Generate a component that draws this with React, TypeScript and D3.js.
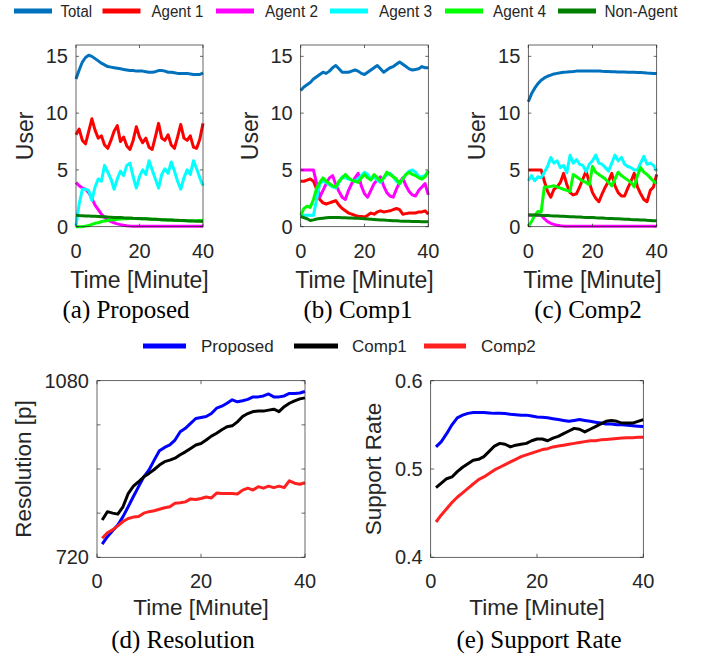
import React from 'react';
import * as d3 from 'd3';

// ---------- DATA ----------
const topMinutes = d3.range(0, 41);
const bottomMinutes = d3.range(1, 41);

const agentLabels = ['Total', 'Agent 1', 'Agent 2', 'Agent 3', 'Agent 4', 'Non-Agent'];
const agentColors = ['#0072BD', '#FF0000', '#FF00FF', '#00FFFF', '#00FF00', '#007F00'];

const aTotal = [13.0, 13.8, 14.5, 14.9, 15.1, 15.0, 14.8, 14.6, 14.4, 14.25, 14.1, 14.05, 14.0, 13.95, 13.9, 13.85, 13.8, 13.75, 13.75, 13.7, 13.7, 13.7, 13.65, 13.6, 13.6, 13.65, 13.75, 13.75, 13.7, 13.6, 13.6, 13.55, 13.5, 13.5, 13.5, 13.5, 13.45, 13.4, 13.4, 13.4, 13.55];
const aAgent1 = [8.1, 8.6, 7.6, 7.3, 8.4, 9.5, 8.5, 7.8, 8.0, 7.2, 6.9, 7.6, 8.4, 8.9, 7.5, 7.9, 7.1, 6.8, 7.6, 8.8, 7.9, 7.4, 7.8, 7.0, 6.8, 7.9, 9.1, 7.8, 7.6, 8.1, 7.2, 6.9, 7.9, 9.0, 7.8, 7.6, 8.0, 7.0, 6.9, 7.7, 9.1];
const aAgent2 = [3.9, 3.6, 3.4, 3.3, 3.0, 2.5, 1.9, 1.5, 1.1, 0.8, 0.6, 0.45, 0.35, 0.25, 0.18, 0.12, 0.08, 0.06, 0.05, 0.05, 0.05, 0.05, 0.05, 0.05, 0.05, 0.05, 0.05, 0.05, 0.05, 0.05, 0.05, 0.05, 0.05, 0.05, 0.05, 0.05, 0.05, 0.05, 0.05, 0.05, 0.05];
const aAgent3 = [0.1, 2.0, 3.3, 3.3, 3.2, 2.3, 3.5, 4.2, 4.0, 5.4, 4.8, 4.2, 3.3, 4.2, 4.9, 4.5, 5.4, 5.6, 4.4, 3.4, 4.4, 5.0, 4.6, 5.8, 5.0, 4.2, 3.4, 4.6, 5.1, 4.7, 5.7, 4.9, 4.0, 3.3, 4.3, 5.0, 4.6, 5.8, 5.1, 4.3, 3.6];
const aAgent4 = [0, 0, 0, 0.05, 0.1, 0.2, 0.3, 0.35, 0.45, 0.5, 0.55, 0.6, 0.62, 0.65, 0.68, 0.7, 0.7, 0.72, 0.72, 0.72, 0.7, 0.7, 0.7, 0.68, 0.66, 0.65, 0.63, 0.62, 0.6, 0.6, 0.58, 0.56, 0.55, 0.55, 0.53, 0.52, 0.52, 0.52, 0.53, 0.55, 0.57];
const aNonAgent = [1.0, 0.98, 0.97, 0.95, 0.94, 0.92, 0.91, 0.9, 0.88, 0.87, 0.85, 0.84, 0.82, 0.81, 0.8, 0.78, 0.77, 0.76, 0.74, 0.73, 0.72, 0.7, 0.69, 0.68, 0.66, 0.65, 0.64, 0.62, 0.61, 0.6, 0.59, 0.57, 0.56, 0.55, 0.54, 0.52, 0.51, 0.5, 0.49, 0.47, 0.46];

const bTotal = [12.0, 12.3, 12.5, 12.7, 13.0, 13.2, 13.4, 13.6, 13.5, 13.7, 14.0, 14.2, 13.9, 13.6, 13.6, 13.6, 13.7, 13.8, 13.7, 13.5, 13.4, 13.6, 13.8, 14.0, 14.2, 13.9, 13.6, 13.8, 14.0, 14.1, 14.3, 14.5, 14.3, 14.1, 13.9, 13.8, 13.85, 13.9, 14.1, 14.0, 14.0];
const bAgent1 = [4.0, 4.0, 4.1, 4.2, 4.0, 3.3, 2.4, 2.1, 2.0, 2.1, 2.2, 2.3, 1.9, 1.6, 1.4, 1.2, 1.1, 1.0, 0.9, 0.9, 0.85, 1.0, 1.2, 1.1, 1.3, 1.4, 1.3, 1.35, 1.4, 1.5, 1.6, 1.5, 1.1, 1.15, 1.2, 1.2, 1.2, 1.3, 1.3, 1.4, 1.1];
const bAgent2 = [5.0, 5.0, 5.0, 5.0, 5.0, 3.8, 2.6, 3.2, 3.8, 4.3, 4.5, 3.7, 3.1, 2.6, 2.4, 3.2, 3.8, 4.3, 4.7, 3.6, 2.9, 2.6, 3.2, 3.8, 4.1, 4.4, 3.6, 3.0, 2.7, 2.6, 3.3, 3.9, 4.3, 3.6, 3.1, 2.8, 2.7, 3.2, 3.5, 3.8, 2.8];
const bAgent3 = [1.0, 1.0, 1.0, 1.0, 1.0, 2.4, 3.8, 4.0, 3.9, 3.7, 3.5, 3.4, 3.9, 4.4, 4.3, 4.2, 4.1, 4.0, 4.2, 4.5, 4.8, 4.6, 4.2, 4.4, 4.1, 3.9, 4.3, 4.6, 4.7, 4.4, 4.0, 3.8, 4.2, 4.6, 4.9, 5.0, 4.8, 4.4, 4.4, 4.5, 4.9];
const bAgent4 = [1.0, 1.6, 1.8, 1.7, 2.4, 3.4, 3.9, 4.3, 4.0, 3.8, 3.6, 3.5, 4.0, 4.3, 4.6, 4.3, 4.1, 4.0, 3.9, 4.3, 4.6, 4.3, 4.1, 4.6, 4.3, 4.0, 4.3, 4.8, 4.6, 4.4, 4.2, 3.8, 4.2, 4.6, 4.8, 4.6, 4.5, 4.3, 4.2, 4.4, 4.9];
const bNonAgent = [0.9, 0.8, 0.7, 0.55, 0.6, 0.68, 0.72, 0.75, 0.78, 0.8, 0.8, 0.8, 0.8, 0.79, 0.78, 0.77, 0.76, 0.75, 0.74, 0.72, 0.7, 0.68, 0.66, 0.64, 0.62, 0.6, 0.58, 0.56, 0.55, 0.53, 0.52, 0.5, 0.49, 0.48, 0.47, 0.46, 0.45, 0.45, 0.44, 0.44, 0.43];

const cTotal = [11.0, 11.7, 12.2, 12.6, 12.9, 13.1, 13.25, 13.35, 13.45, 13.5, 13.55, 13.6, 13.62, 13.65, 13.67, 13.7, 13.7, 13.72, 13.72, 13.72, 13.72, 13.7, 13.7, 13.68, 13.67, 13.66, 13.65, 13.64, 13.63, 13.62, 13.62, 13.6, 13.6, 13.6, 13.58, 13.57, 13.55, 13.53, 13.52, 13.5, 13.5];
const cAgent1 = [5.0, 5.0, 5.0, 5.0, 5.0, 4.0, 3.1, 2.6, 3.3, 3.5, 3.9, 4.7, 3.7, 3.0, 2.8, 2.9, 3.5, 4.2, 4.9, 3.9, 3.0, 2.5, 2.2, 2.9, 3.5, 4.0, 4.7, 3.6, 3.0, 2.7, 2.7, 3.4, 4.0, 4.7, 3.5, 2.9, 2.4, 2.2, 3.2, 3.5, 4.6];
const cAgent2 = [1.0, 1.0, 1.0, 1.0, 1.0, 0.7, 0.45, 0.3, 0.2, 0.12, 0.08, 0.05, 0.05, 0.05, 0.05, 0.05, 0.05, 0.05, 0.05, 0.05, 0.05, 0.05, 0.05, 0.05, 0.05, 0.05, 0.05, 0.05, 0.05, 0.05, 0.05, 0.05, 0.05, 0.05, 0.05, 0.05, 0.05, 0.05, 0.05, 0.05, 0.05];
const cAgent3 = [4.05, 4.5, 4.05, 4.4, 4.3, 4.8, 5.3, 6.1, 5.6, 5.8, 5.2, 5.4, 4.75, 6.3, 5.6, 5.9, 5.5, 5.4, 4.85, 5.5, 5.8, 6.3, 5.6, 5.5, 5.2, 4.9, 5.6, 6.3, 5.8, 6.1, 5.5, 5.3, 5.2, 5.0, 5.0, 5.6, 6.2, 5.5, 5.6, 5.4, 4.9];
const cAgent4 = [0.05, 0.45, 1.0, 1.35, 1.3, 3.5, 3.5, 3.55, 3.6, 3.5, 3.4, 3.3, 3.2, 3.1, 4.6, 4.4, 4.2, 4.0, 3.9, 3.7, 5.3, 4.8, 4.6, 4.4, 4.2, 3.9, 3.6, 4.2, 4.8, 4.5, 4.3, 4.1, 3.9, 3.5, 4.5, 5.2, 4.8, 4.6, 4.3, 4.0, 3.8];
const cNonAgent = [1.05, 1.04, 1.03, 1.02, 1.0, 0.99, 0.98, 0.96, 0.95, 0.94, 0.92, 0.91, 0.9, 0.88, 0.87, 0.86, 0.85, 0.83, 0.82, 0.81, 0.8, 0.78, 0.77, 0.76, 0.74, 0.73, 0.72, 0.7, 0.69, 0.68, 0.66, 0.65, 0.63, 0.62, 0.61, 0.59, 0.58, 0.56, 0.55, 0.53, 0.52];

const methodLabels = ['Proposed', 'Comp1', 'Comp2'];
const methodColors = ['#0000FF', '#000000', '#FF2020'];

const resProposed = [747, 762, 774, 786, 803, 823, 844, 864, 884, 898, 918, 937, 944, 949, 959, 976, 983, 993, 1003, 1005, 1007, 1013, 1024, 1028, 1034, 1041, 1037, 1039, 1042, 1047, 1047, 1049, 1053, 1047, 1047, 1049, 1054, 1054, 1055, 1058];
const resComp1 = [796, 813, 810, 808, 823, 850, 865, 874, 884, 891, 899, 908, 915, 918, 922, 929, 935, 942, 949, 952, 959, 967, 973, 980, 986, 988, 996, 1007, 1013, 1017, 1018, 1018, 1020, 1022, 1017, 1027, 1034, 1039, 1043, 1045];
const resComp2 = [759, 770, 776, 784, 793, 799, 802, 803, 810, 813, 815, 818, 821, 823, 830, 831, 833, 839, 838, 840, 843, 841, 851, 850, 850, 850, 849, 857, 861, 857, 864, 861, 865, 862, 865, 862, 876, 871, 869, 872];

const srProposed = [0.525, 0.531, 0.540, 0.550, 0.558, 0.561, 0.563, 0.564, 0.564, 0.564, 0.5635, 0.563, 0.563, 0.5628, 0.562, 0.5615, 0.561, 0.561, 0.560, 0.559, 0.5585, 0.558, 0.557, 0.556, 0.555, 0.554, 0.555, 0.556, 0.555, 0.554, 0.553, 0.552, 0.551, 0.551, 0.550, 0.550, 0.5495, 0.549, 0.5485, 0.548];
const srComp1 = [0.479, 0.484, 0.489, 0.491, 0.497, 0.502, 0.506, 0.510, 0.511, 0.514, 0.520, 0.526, 0.529, 0.528, 0.525, 0.527, 0.528, 0.529, 0.532, 0.534, 0.534, 0.532, 0.535, 0.537, 0.540, 0.543, 0.546, 0.545, 0.542, 0.545, 0.548, 0.551, 0.554, 0.555, 0.554, 0.552, 0.552, 0.552, 0.554, 0.556];
const srComp2 = [0.440, 0.448, 0.455, 0.462, 0.468, 0.473, 0.478, 0.483, 0.488, 0.491, 0.495, 0.499, 0.502, 0.505, 0.508, 0.511, 0.514, 0.516, 0.518, 0.520, 0.522, 0.523, 0.525, 0.526, 0.527, 0.528, 0.529, 0.530, 0.531, 0.532, 0.532, 0.533, 0.5335, 0.534, 0.5345, 0.535, 0.5355, 0.5355, 0.536, 0.536];

const topXTicks = [0, 20, 40];
const topYTicks = [0, 5, 10, 15];
const resYTicks = [720, 810, 900, 990, 1080];
const resYTickLabels = ['720', '', '', '', '1080'];
const srYTicks = [0.4, 0.5, 0.6];
const srYTickLabels = ['0.4', '0.5', '0.6'];

const topCaptions = ['(a) Proposed', '(b) Comp1', '(c) Comp2'];
const bottomCaptions = ['(d) Resolution', '(e) Support Rate'];

// ---------- STYLE ----------
const SANS = 'Liberation Sans, Arial, Helvetica, sans-serif';
const SERIF = 'Liberation Serif, Times New Roman, serif';
const TXT = '#262626';
const AX = '#262626';

type PanelProps = {
  xs: number[];
  series: number[][];
  colors: string[];
  xDomain: [number, number];
  yDomain: [number, number];
  xRange: [number, number];
  yRange: [number, number];
  xTicks: number[];
  yTicks: number[];
  yTickLabels: string[];
  yLabel: string;
  yLabelX: number;
  xTickBaseline: number;
  xLabelBaseline: number;
  tickLen: number;
  lineWidth: number;
  labelSize: number;
};

function Panel(p: PanelProps) {
  const x = d3.scaleLinear().domain(p.xDomain).range(p.xRange);
  const y = d3.scaleLinear().domain(p.yDomain).range(p.yRange);
  const line = d3.line<number>().x((_, i) => x(p.xs[i])).y((d) => y(d));
  const [x0, x1] = p.xRange;
  const [yb, yt] = p.yRange;
  const cy = (yb + yt) / 2;
  const cx = (x0 + x1) / 2;
  return (
    <g>
      {p.series.map((s, i) => (
        <path key={i} d={line(s) || ''} fill="none" stroke={p.colors[i]} strokeWidth={p.lineWidth} strokeLinejoin="round" />
      ))}
      <rect x={x0} y={yt} width={x1 - x0} height={yb - yt} fill="none" stroke={AX} strokeWidth={0.7} />
      {p.xTicks.map((t) => (
        <g key={'xt' + t}>
          <line x1={x(t)} x2={x(t)} y1={yb} y2={yb - p.tickLen} stroke={AX} strokeWidth={0.7} />
          <line x1={x(t)} x2={x(t)} y1={yt} y2={yt + p.tickLen} stroke={AX} strokeWidth={0.7} />
          <text x={x(t)} y={p.xTickBaseline} textAnchor="middle" fontFamily={SANS} fontSize={20} fill={TXT}>{t}</text>
        </g>
      ))}
      {p.yTicks.map((t, i) => (
        <g key={'yt' + t}>
          <line x1={x0} x2={x0 + p.tickLen} y1={y(t)} y2={y(t)} stroke={AX} strokeWidth={0.7} />
          <line x1={x1} x2={x1 - p.tickLen} y1={y(t)} y2={y(t)} stroke={AX} strokeWidth={0.7} />
          <text x={x0 - 8} y={y(t)} dy="0.35em" textAnchor="end" fontFamily={SANS} fontSize={20} fill={TXT}>{p.yTickLabels[i]}</text>
        </g>
      ))}
      <text x={cx} y={p.xLabelBaseline} textAnchor="middle" fontFamily={SANS} fontSize={p.labelSize} fill={TXT}>Time [Minute]</text>
      <text transform={`translate(${p.yLabelX},${cy}) rotate(-90)`} textAnchor="middle" fontFamily={SANS} fontSize={p.labelSize} fill={TXT}>{p.yLabel}</text>
    </g>
  );
}

export default function App() {
  const topSets = [
    [aTotal, aAgent1, aAgent2, aAgent3, aAgent4, aNonAgent],
    [bTotal, bAgent1, bAgent2, bAgent3, bAgent4, bNonAgent],
    [cTotal, cAgent1, cAgent2, cAgent3, cAgent4, cNonAgent],
  ];
  const topXRanges: [number, number][] = [[76, 203], [300.7, 428.3], [528.3, 656.7]];
  const topYLabelX = [33, 258, 485];
  const topCaptionX = [126, 358, 588];

  const legend1 = [
    { lx: 14, lw: 38, tx: 60.5, tw: 31.5 },
    { lx: 102.5, lw: 38, tx: 151.5, tw: 52 },
    { lx: 216, lw: 38, tx: 265, tw: 53 },
    { lx: 330, lw: 38, tx: 379, tw: 53 },
    { lx: 445, lw: 38, tx: 493, tw: 53 },
    { lx: 558, lw: 38, tx: 604.5, tw: 73 },
  ];
  const legend2 = [
    { lx: 143, lw: 43, tx: 201 },
    { lx: 294, lw: 44, tx: 352 },
    { lx: 424, lw: 42, tx: 481 },
  ];

  return (
    <svg width={701} height={660} style={{ position: 'absolute', left: 0, top: 0, background: '#fff' }}>
      <rect x={0} y={0} width={701} height={660} fill="#fff" />
      {agentLabels.map((lab, i) => (
        <g key={lab}>
          <line x1={legend1[i].lx} x2={legend1[i].lx + legend1[i].lw} y1={11} y2={11} stroke={agentColors[i]} strokeWidth={5} />
          <text x={legend1[i].tx} y={17} fontFamily={SANS} fontSize={16} fill={TXT} textLength={legend1[i].tw} lengthAdjust="spacingAndGlyphs">{lab}</text>
        </g>
      ))}
      {topSets.map((set, k) => (
        <Panel
          key={k}
          xs={topMinutes}
          series={set}
          colors={agentColors}
          xDomain={[0, 40]}
          yDomain={[0, 16]}
          xRange={topXRanges[k]}
          yRange={[226.7, 45]}
          xTicks={topXTicks}
          yTicks={topYTicks}
          yTickLabels={topYTicks.map(String)}
          yLabel="User"
          yLabelX={topYLabelX[k]}
          xTickBaseline={258}
          xLabelBaseline={287.5}
          tickLen={3}
          lineWidth={3}
          labelSize={23}
        />
      ))}
      {topCaptions.map((c, k) => (
        <text key={c} x={topCaptionX[k]} y={318} textAnchor="middle" fontFamily={SERIF} fontSize={25} fill="#000">{c}</text>
      ))}
      {methodLabels.map((lab, i) => (
        <g key={lab}>
          <line x1={legend2[i].lx} x2={legend2[i].lx + legend2[i].lw} y1={346} y2={346} stroke={methodColors[i]} strokeWidth={5} />
          <text x={legend2[i].tx} y={352} fontFamily={SANS} fontSize={17} fill={TXT}>{lab}</text>
        </g>
      ))}
      <Panel
        xs={bottomMinutes}
        series={[resProposed, resComp1, resComp2]}
        colors={methodColors}
        xDomain={[0, 40]}
        yDomain={[720, 1080]}
        xRange={[97, 305]}
        yRange={[557.3, 380.7]}
        xTicks={topXTicks}
        yTicks={resYTicks}
        yTickLabels={resYTickLabels}
        yLabel="Resolution [p]"
        yLabelX={31}
        xTickBaseline={588}
        xLabelBaseline={615}
        tickLen={3.5}
        lineWidth={3}
        labelSize={22.5}
      />
      <Panel
        xs={bottomMinutes}
        series={[srProposed, srComp1, srComp2]}
        colors={methodColors}
        xDomain={[0, 40]}
        yDomain={[0.4, 0.6]}
        xRange={[430.7, 643.3]}
        yRange={[557.3, 380.7]}
        xTicks={topXTicks}
        yTicks={srYTicks}
        yTickLabels={srYTickLabels}
        yLabel="Support Rate"
        yLabelX={381}
        xTickBaseline={588}
        xLabelBaseline={615}
        tickLen={3.5}
        lineWidth={3}
        labelSize={22.5}
      />
      <text x={183} y={648} textAnchor="middle" fontFamily={SERIF} fontSize={25} fill="#000">{bottomCaptions[0]}</text>
      <text x={539} y={648} textAnchor="middle" fontFamily={SERIF} fontSize={25} fill="#000">{bottomCaptions[1]}</text>
    </svg>
  );
}
